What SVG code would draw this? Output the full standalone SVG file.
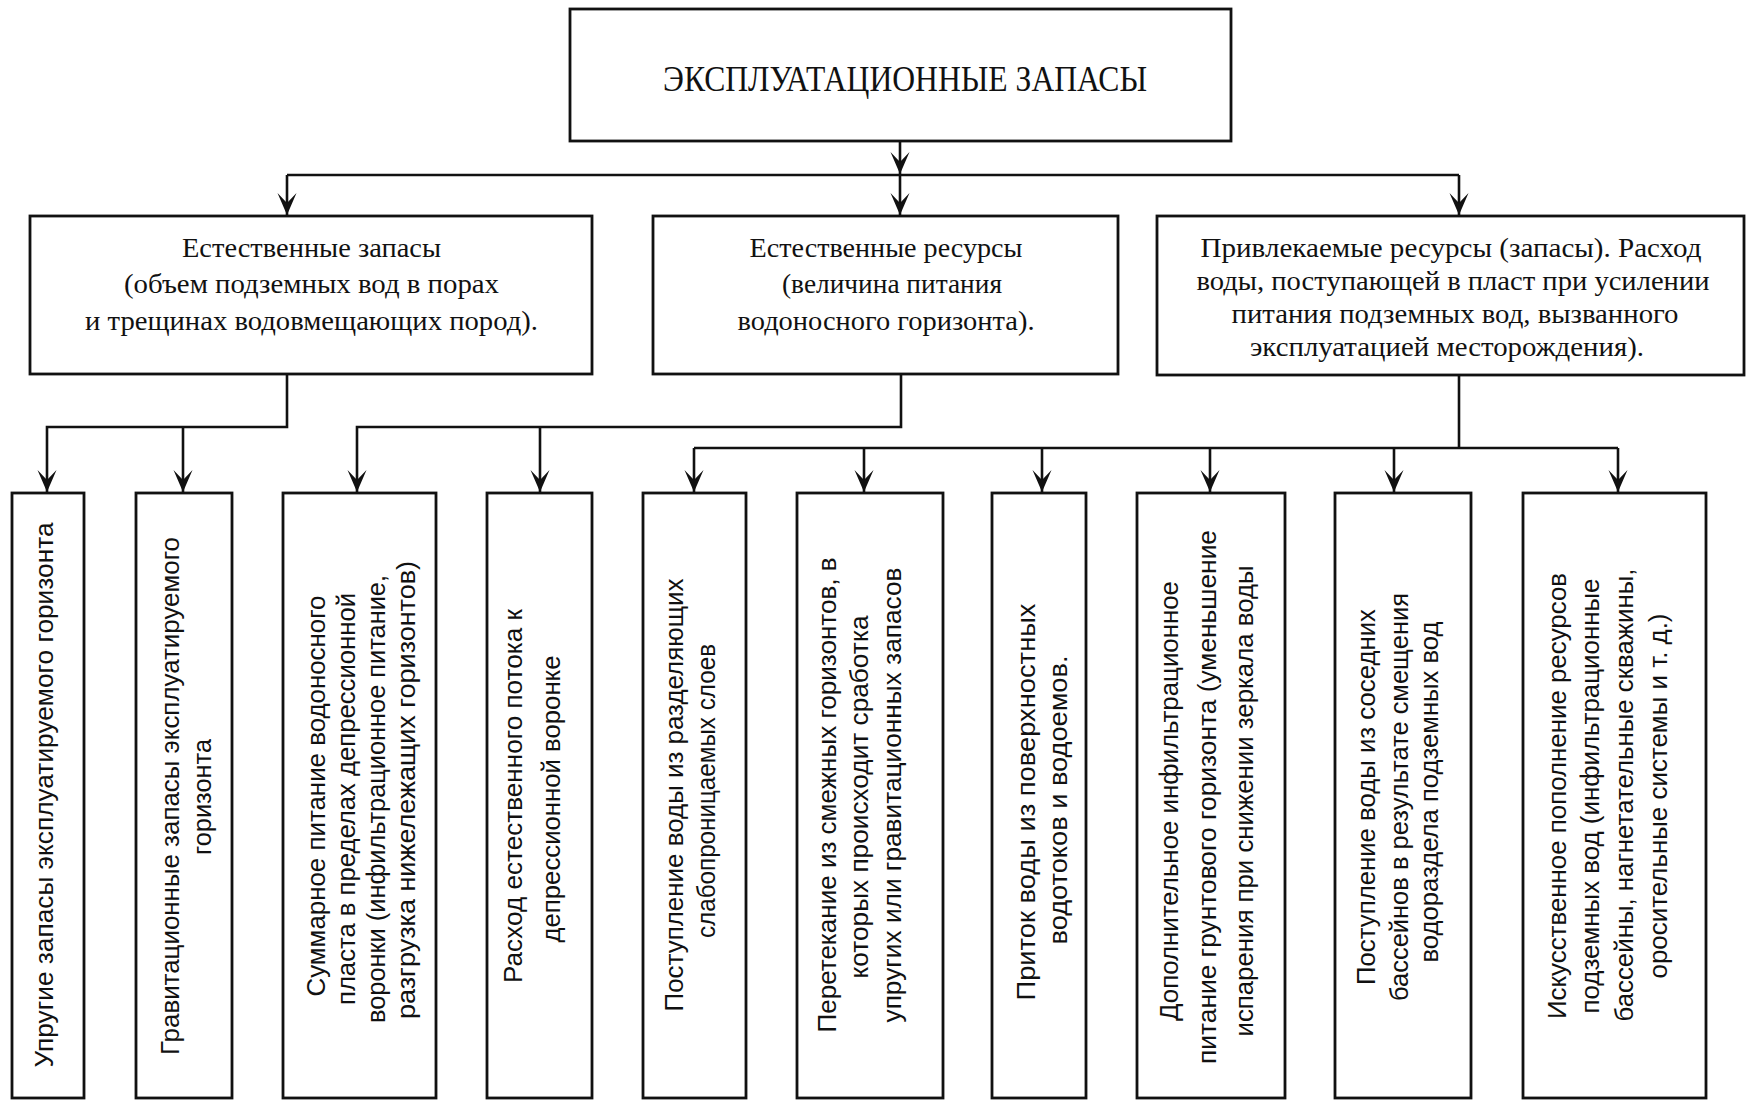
<svg xmlns="http://www.w3.org/2000/svg" width="1750" height="1102" viewBox="0 0 1750 1102">
<style>
.box{fill:#fff;stroke:#111;stroke-width:2.8}
.ln{fill:none;stroke:#111;stroke-width:2.6}
.ser{font-family:"Liberation Serif","Times New Roman",serif;font-size:28px;fill:#111;text-anchor:middle}
.top{font-size:35px}
.san{font-family:"Liberation Sans",Arial,sans-serif;font-size:26px;fill:#111;text-anchor:middle}
</style>
<defs>
<marker id="arr" viewBox="-23 -11 24 22" refX="0" refY="0" markerWidth="24" markerHeight="22" markerUnits="userSpaceOnUse" orient="auto">
<path d="M0,0 L-22,-9.5 L-12,0 L-22,9.5 Z" fill="#111"/>
</marker>
</defs>
<rect width="1750" height="1102" fill="#fff"/>

<g id="connectors">
<path class="ln" d="M900,142 V174" marker-end="url(#arr)"/>
<path class="ln" d="M900,175 V215" marker-end="url(#arr)"/>
<path class="ln" d="M287,175 H1459"/>
<path class="ln" d="M287,175 V215" marker-end="url(#arr)"/>
<path class="ln" d="M1459,175 V215" marker-end="url(#arr)"/>

<path class="ln" d="M287,374 V427 H47 V492" marker-end="url(#arr)"/>
<path class="ln" d="M183,427 V492" marker-end="url(#arr)"/>

<path class="ln" d="M901,374 V427 H357 V492" marker-end="url(#arr)"/>
<path class="ln" d="M540,427 V492" marker-end="url(#arr)"/>

<path class="ln" d="M1459,375 V448"/>
<path class="ln" d="M694,448 H1618"/>
<path class="ln" d="M694,448 V492" marker-end="url(#arr)"/>
<path class="ln" d="M864,448 V492" marker-end="url(#arr)"/>
<path class="ln" d="M1042,448 V492" marker-end="url(#arr)"/>
<path class="ln" d="M1210,448 V492" marker-end="url(#arr)"/>
<path class="ln" d="M1394,448 V492" marker-end="url(#arr)"/>
<path class="ln" d="M1618,448 V492" marker-end="url(#arr)"/>
</g>

<g id="root">
<rect class="box" x="570" y="9" width="661" height="132"/>
<text class="ser top" x="905" y="91" textLength="484" lengthAdjust="spacingAndGlyphs">ЭКСПЛУАТАЦИОННЫЕ ЗАПАСЫ</text>
</g>

<g id="natural-reserves">
<rect class="box" x="30" y="216" width="562" height="158"/>
<text class="ser" x="311.5" y="257" textLength="259" lengthAdjust="spacingAndGlyphs">Естественные запасы</text>
<text class="ser" x="311.5" y="293" textLength="375" lengthAdjust="spacingAndGlyphs">(объем подземных вод в порах</text>
<text class="ser" x="311.5" y="330" textLength="453" lengthAdjust="spacingAndGlyphs">и трещинах водовмещающих пород).</text>
</g>

<g id="natural-resources">
<rect class="box" x="653" y="216" width="465" height="158"/>
<text class="ser" x="886" y="257" textLength="273" lengthAdjust="spacingAndGlyphs">Естественные ресурсы</text>
<text class="ser" x="892" y="293" textLength="220" lengthAdjust="spacingAndGlyphs">(величина питания</text>
<text class="ser" x="886" y="330" textLength="297" lengthAdjust="spacingAndGlyphs">водоносного горизонта).</text>
</g>

<g id="attracted-resources">
<rect class="box" x="1157" y="216" width="587" height="159"/>
<text class="ser" x="1451" y="257" textLength="501" lengthAdjust="spacingAndGlyphs">Привлекаемые ресурсы (запасы). Расход</text>
<text class="ser" x="1453" y="290" textLength="513" lengthAdjust="spacingAndGlyphs">воды, поступающей в пласт при усилении</text>
<text class="ser" x="1455" y="323" textLength="447" lengthAdjust="spacingAndGlyphs">питания подземных вод, вызванного</text>
<text class="ser" x="1447" y="356" textLength="394" lengthAdjust="spacingAndGlyphs">эксплуатацией месторождения).</text>
</g>

<g id="b1">
<rect class="box" x="12" y="493" width="72" height="605"/>
<text class="san" transform="translate(53,795) rotate(-90)" textLength="545" lengthAdjust="spacingAndGlyphs">Упругие запасы эксплуатируемого горизонта</text>
</g>

<g id="b2">
<rect class="box" x="136" y="493" width="96" height="605"/>
<text class="san" transform="translate(179,796) rotate(-90)" textLength="518" lengthAdjust="spacingAndGlyphs">Гравитационные запасы эксплуатируемого</text>
<text class="san" transform="translate(211,797) rotate(-90)" textLength="116" lengthAdjust="spacingAndGlyphs">горизонта</text>
</g>

<g id="b3">
<rect class="box" x="283" y="493" width="153" height="605"/>
<text class="san" transform="translate(325,796) rotate(-90)" textLength="401" lengthAdjust="spacingAndGlyphs">Суммарное питание водоносного</text>
<text class="san" transform="translate(355,799) rotate(-90)" textLength="412" lengthAdjust="spacingAndGlyphs">пласта в пределах депрессионной</text>
<text class="san" transform="translate(385,799) rotate(-90)" textLength="448" lengthAdjust="spacingAndGlyphs">воронки (инфильтрационное питание,</text>
<text class="san" transform="translate(415,790) rotate(-90)" textLength="458" lengthAdjust="spacingAndGlyphs">разгрузка нижележащих горизонтов)</text>
</g>

<g id="b4">
<rect class="box" x="487" y="493" width="105" height="605"/>
<text class="san" transform="translate(522,796) rotate(-90)" textLength="374" lengthAdjust="spacingAndGlyphs">Расход естественного потока к</text>
<text class="san" transform="translate(560,799) rotate(-90)" textLength="287" lengthAdjust="spacingAndGlyphs">депрессионной воронке</text>
</g>

<g id="b5">
<rect class="box" x="643" y="493" width="103" height="605"/>
<text class="san" transform="translate(683,795) rotate(-90)" textLength="433" lengthAdjust="spacingAndGlyphs">Поступление воды из разделяющих</text>
<text class="san" transform="translate(715,791) rotate(-90)" textLength="294" lengthAdjust="spacingAndGlyphs">слабопроницаемых слоев</text>
</g>

<g id="b6">
<rect class="box" x="797" y="493" width="146" height="605"/>
<text class="san" transform="translate(836,795) rotate(-90)" textLength="475" lengthAdjust="spacingAndGlyphs">Перетекание из смежных горизонтов, в</text>
<text class="san" transform="translate(868,797) rotate(-90)" textLength="363" lengthAdjust="spacingAndGlyphs">которых происходит сработка</text>
<text class="san" transform="translate(901,795) rotate(-90)" textLength="455" lengthAdjust="spacingAndGlyphs">упругих или гравитационных запасов</text>
</g>

<g id="b7">
<rect class="box" x="992" y="493" width="94" height="605"/>
<text class="san" transform="translate(1035,802) rotate(-90)" textLength="397" lengthAdjust="spacingAndGlyphs">Приток воды из поверхностных</text>
<text class="san" transform="translate(1067,800) rotate(-90)" textLength="289" lengthAdjust="spacingAndGlyphs">водотоков и водоемов.</text>
</g>

<g id="b8">
<rect class="box" x="1137" y="493" width="148" height="605"/>
<text class="san" transform="translate(1178,801) rotate(-90)" textLength="440" lengthAdjust="spacingAndGlyphs">Дополнительное инфильтрационное</text>
<text class="san" transform="translate(1216,797) rotate(-90)" textLength="534" lengthAdjust="spacingAndGlyphs">питание грунтового горизонта (уменьшение</text>
<text class="san" transform="translate(1253,801) rotate(-90)" textLength="471" lengthAdjust="spacingAndGlyphs">испарения при снижении зеркала воды</text>
</g>

<g id="b9">
<rect class="box" x="1335" y="493" width="136" height="605"/>
<text class="san" transform="translate(1375,797) rotate(-90)" textLength="376" lengthAdjust="spacingAndGlyphs">Поступление воды из соседних</text>
<text class="san" transform="translate(1408,797) rotate(-90)" textLength="408" lengthAdjust="spacingAndGlyphs">бассейнов в результате смещения</text>
<text class="san" transform="translate(1438,792) rotate(-90)" textLength="341" lengthAdjust="spacingAndGlyphs">водораздела подземных вод</text>
</g>

<g id="b10">
<rect class="box" x="1523" y="493" width="183" height="605"/>
<text class="san" transform="translate(1566,796) rotate(-90)" textLength="446" lengthAdjust="spacingAndGlyphs">Искусственное пополнение ресурсов</text>
<text class="san" transform="translate(1599,796) rotate(-90)" textLength="435" lengthAdjust="spacingAndGlyphs">подземных вод (инфильтрационные</text>
<text class="san" transform="translate(1633,795) rotate(-90)" textLength="453" lengthAdjust="spacingAndGlyphs">бассейны, нагнетательные скважины,</text>
<text class="san" transform="translate(1667,796) rotate(-90)" textLength="365" lengthAdjust="spacingAndGlyphs">оросительные системы и т. д.)</text>
</g>
</svg>
